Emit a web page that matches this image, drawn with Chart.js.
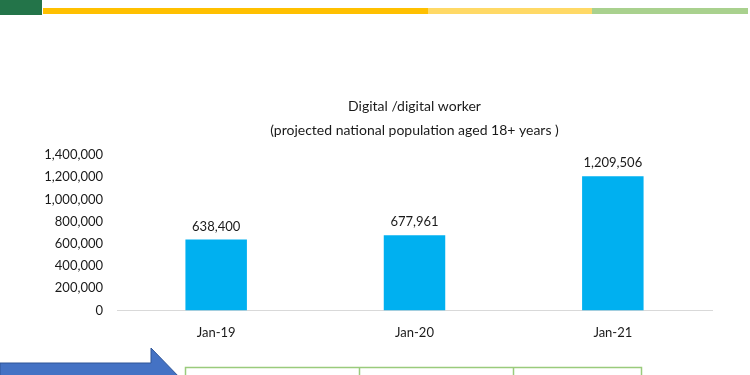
<!DOCTYPE html>
<html>
<head>
<meta charset="utf-8">
<script src="https://cdn.jsdelivr.net/npm/chart.js@4.4.1/dist/chart.umd.min.js"></script>
<style>
  html, body { margin: 0; padding: 0; background: #fff; }
  #wrap { position: relative; width: 750px; height: 375px; overflow: hidden; }
  #chart { position: absolute; left: 0; top: 0; }
  .deco { position: absolute; }
</style>
</head>
<body>
<div id="wrap">
  <canvas id="chart" width="750" height="375"></canvas>
  <!-- header strip -->
  <div class="deco" style="left:0;top:0;width:42px;height:15px;background:#237449;"></div>
  <div class="deco" style="left:43px;top:8px;width:385px;height:6px;background:#FFC000;"></div>
  <div class="deco" style="left:428px;top:8px;width:164px;height:6px;background:#FFD966;"></div>
  <div class="deco" style="left:592px;top:8px;width:156px;height:6px;background:#A9D18E;"></div>
  <!-- arrow and table edge at the bottom -->
  <svg class="deco" style="left:0;top:340px" width="750" height="35">
    <polygon points="0,23 151,23 151,8 182,40 0,40" fill="#4472C4" stroke="#2F5597" stroke-width="1"/>
    <rect x="185.5" y="27.5" width="456" height="20" fill="none" stroke="#9ACB7C" stroke-width="1.5"/>
    <line x1="359.5" y1="27.5" x2="359.5" y2="40" stroke="#9ACB7C" stroke-width="1.5"/>
    <line x1="513.5" y1="27.5" x2="513.5" y2="40" stroke="#9ACB7C" stroke-width="1.5"/>
  </svg>
</div>
<script>
const months = ['Jan-19', 'Jan-20', 'Jan-21'];
const digitalWorkers = [638400, 677961, 1209506];
const titleLines = ['Digital /digital worker', '(projected national population aged 18+ years )'];

const fontFamily = 'Lato, "Liberation Sans", sans-serif';
const textColor = '#1a1a1a';

// value labels above the bars + title centred over the plot area
const barLabels = {
  id: 'barLabels',
  afterDatasetsDraw(chart) {
    const ctx = chart.ctx;
    const area = chart.chartArea;
    ctx.save();
    ctx.fillStyle = textColor;
    ctx.textAlign = 'center';
    ctx.textBaseline = 'middle';
    ctx.font = '13px ' + fontFamily;
    chart.getDatasetMeta(0).data.forEach((bar, i) => {
      ctx.fillText(digitalWorkers[i].toLocaleString('en-US'), bar.x, bar.y - 13);
    });
    ctx.font = '14px ' + fontFamily;
    const cx = (area.left + area.right) / 2;
    ctx.fillText(titleLines[0], cx, area.top - 49);
    ctx.fillText(titleLines[1], cx, area.top - 25);
    ctx.restore();
  }
};

const ctx = document.getElementById('chart').getContext('2d');
const workerChart = new Chart(ctx, {
  type: 'bar',
  plugins: [barLabels],
  data: {
    labels: months,
    datasets: [{
      label: 'Digital worker',
      data: digitalWorkers,
      backgroundColor: '#00B0F0',
      borderWidth: 0,
      categoryPercentage: 1,
      barPercentage: 0.31
    }]
  },
  options: {
    responsive: false,
    animation: false,
    layout: {
      padding: { left: 0, right: 38, top: 155, bottom: 19 }
    },
    scales: {
      x: {
        grid: { display: false, drawTicks: false },
        border: { display: true, color: '#d9d9d9', width: 1 },
        ticks: { color: textColor, padding: 15, font: { family: fontFamily, size: 13 } }
      },
      y: {
        min: 0,
        max: 1400000,
        afterFit(scale) { scale.width = 117; },
        grid: { display: false, drawTicks: false },
        border: { display: false },
        ticks: {
          stepSize: 200000,
          padding: 14,
          color: textColor,
          font: { family: fontFamily, size: 13 },
          callback: v => v.toLocaleString('en-US')
        }
      }
    },
    plugins: {
      legend: { display: false },
      tooltip: { enabled: false },
      title: { display: false }
    }
  }
});
</script>
</body>
</html>
